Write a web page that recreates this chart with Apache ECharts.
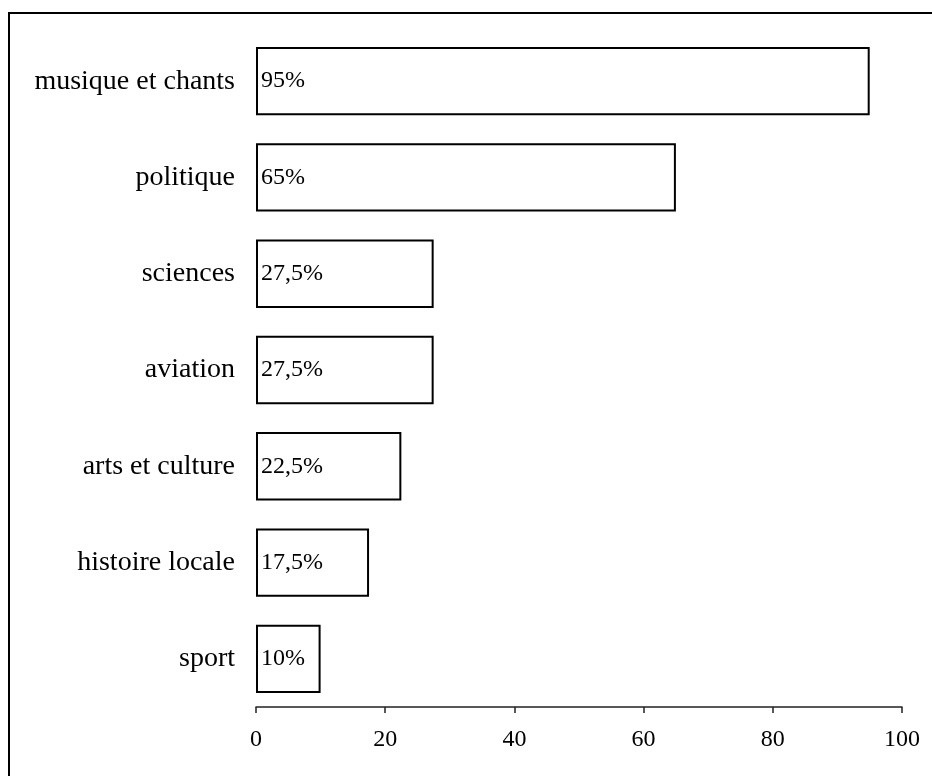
<!DOCTYPE html>
<html>
<head>
<meta charset="utf-8">
<script src="https://cdn.jsdelivr.net/npm/echarts@6/dist/echarts.min.js"></script>
<style>
html,body{margin:0;padding:0;background:#fff;}
#chart{width:932px;height:776px;}
</style>
</head>
<body>
<div id="chart"></div>
<script>
var categories = ['musique et chants', 'politique', 'sciences', 'aviation', 'arts et culture', 'histoire locale', 'sport'];
var values = [95, 65, 27.5, 27.5, 22.5, 17.5, 10];
var xTicks = [0, 20, 40, 60, 80, 100];

var chart = echarts.init(document.getElementById('chart'));
chart.setOption({
  animation: false,
  backgroundColor: '#fff',
  graphic: [{
    type: 'rect',
    shape: { x: 9, y: 13, width: 960, height: 800 },
    style: { fill: 'none', stroke: '#000', lineWidth: 2 },
    silent: true,
    z: 0
  }],
  grid: { left: 256, right: 30, top: 33, bottom: 69 },
  xAxis: {
    type: 'value',
    min: xTicks[0],
    max: xTicks[xTicks.length - 1],
    interval: 20,
    splitLine: { show: false },
    axisLine: { show: true, lineStyle: { color: '#222', width: 1.5 } },
    axisTick: { show: true, inside: false, length: 6, lineStyle: { color: '#222', width: 1.5 } },
    axisLabel: { margin: 21, color: '#000', fontFamily: 'Liberation Serif', fontSize: 24 }
  },
  yAxis: {
    type: 'category',
    inverse: true,
    data: categories,
    axisLine: { show: false },
    axisTick: { show: false },
    splitLine: { show: false },
    axisLabel: { margin: 21, color: '#000', fontFamily: 'Liberation Serif', fontSize: 28 }
  },
  series: [{
    type: 'bar',
    data: values,
    barCategoryGap: '29%',
    itemStyle: { color: '#fff', borderColor: '#000', borderWidth: 2 },
    label: {
      show: true,
      position: 'insideLeft',
      distance: 5,
      color: '#000',
      fontFamily: 'Liberation Serif',
      fontSize: 24,
      formatter: function (p) { return String(p.value).replace('.', ',') + '%'; }
    }
  }]
});
</script>
</body>
</html>
